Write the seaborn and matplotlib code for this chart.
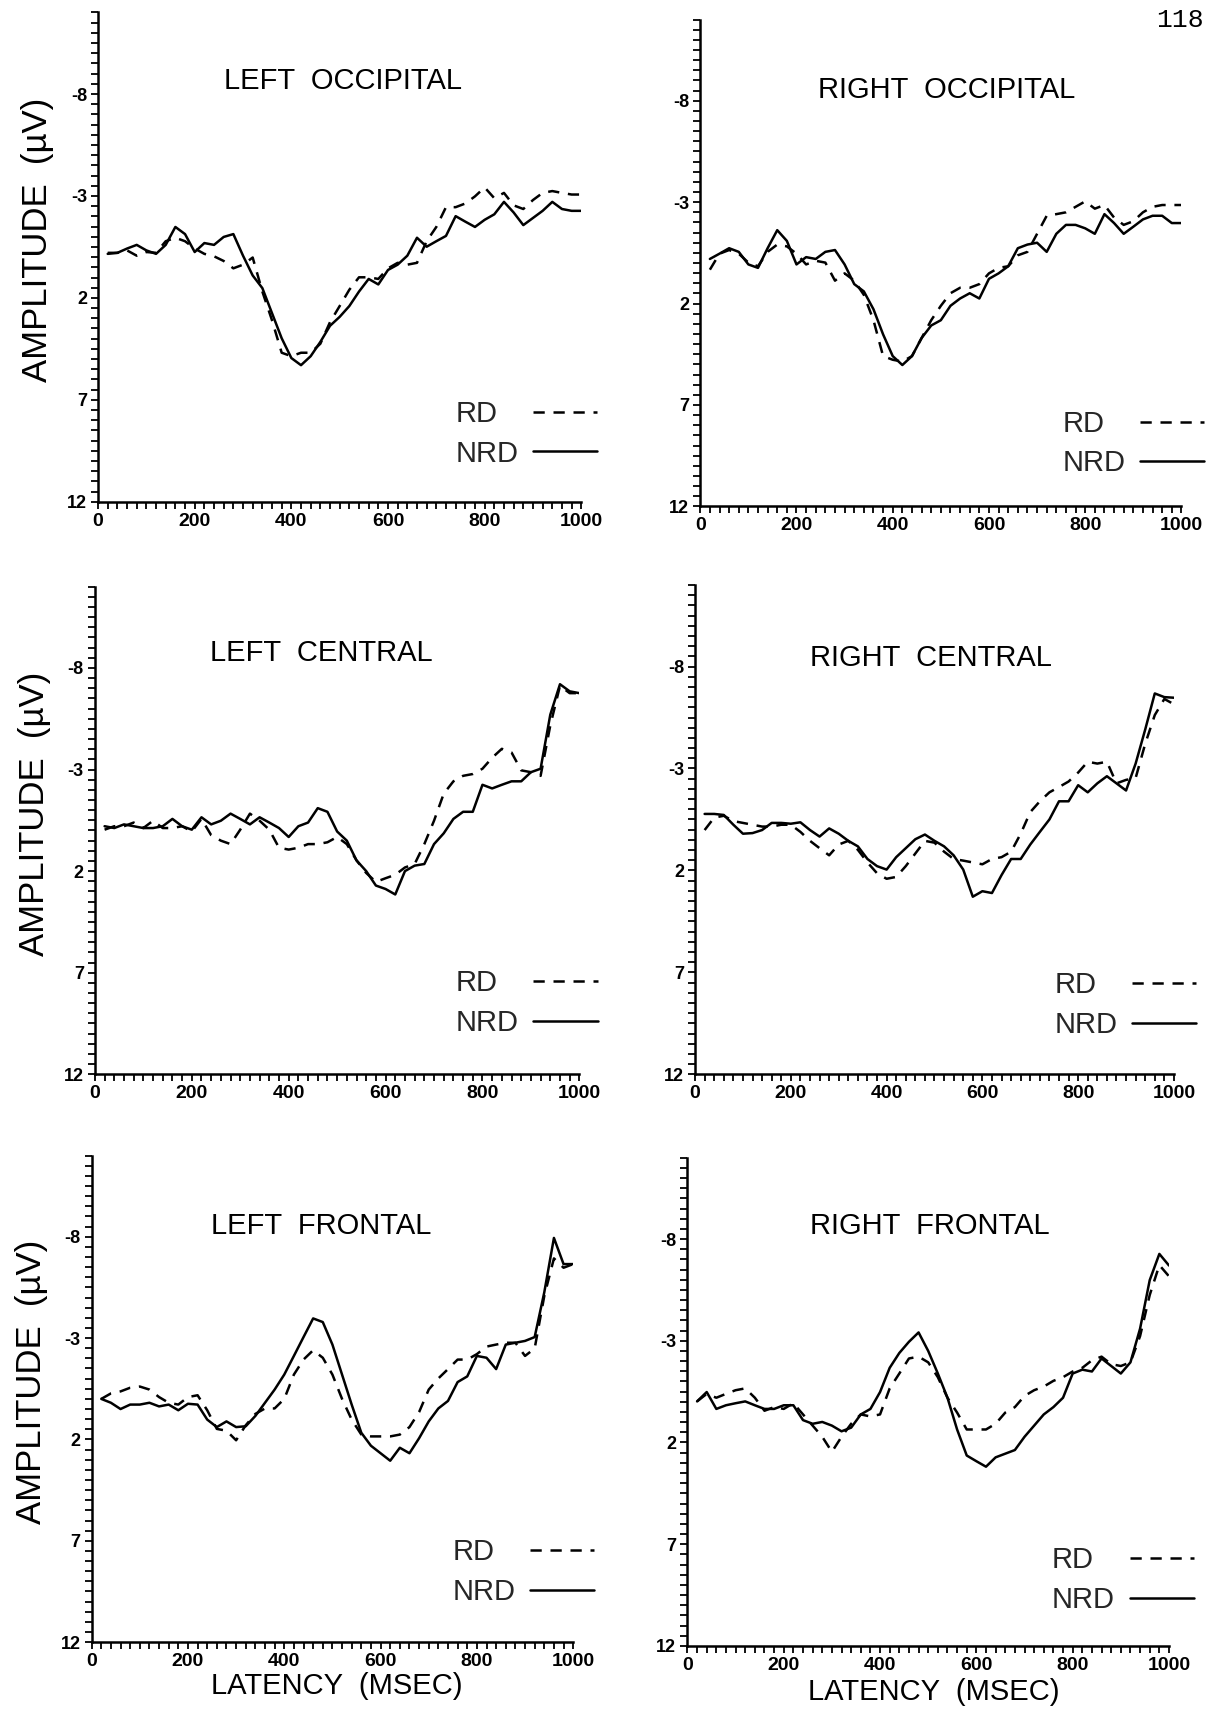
import numpy as np
import pandas as pd
import matplotlib
matplotlib.use("Agg")
import matplotlib.pyplot as plt
from matplotlib.lines import Line2D
from matplotlib.ticker import MultipleLocator
import seaborn as sns

# latency grid (ms), shared by every trace
latency = list(range(20, 1001, 20))

lo_rd = [-0.21, -0.21, -0.33, -0.07, -0.25, -0.21, -0.78, -0.95, -0.78, -0.42,
         -0.16, -0.04, 0.19, 0.55, 0.37, 0.02, 1.69, 3.10, 4.69, 4.86,
         4.69, 4.69, 4.25, 3.19, 2.40, 1.60, 0.99, 0.99, 1.07, 0.55,
         0.28, 0.37, 0.28, -0.78, -1.48, -2.45, -2.45, -2.63, -2.98, -3.42,
         -2.89, -3.15, -2.54, -2.36, -2.80, -3.15, -3.24, -3.15, -3.07, -3.07]
lo_nrd = [-0.16, -0.21, -0.42, -0.60, -0.33, -0.16, -0.60, -1.48, -1.13, -0.25,
          -0.69, -0.60, -0.99, -1.13, -0.07, 0.90, 1.52, 2.75, 3.98, 4.95,
          5.30, 4.86, 4.16, 3.37, 2.93, 2.40, 1.69, 1.07, 1.34, 0.63,
          0.37, -0.07, -0.95, -0.51, -0.78, -1.04, -2.01, -1.74, -1.48, -1.83,
          -2.10, -2.71, -2.19, -1.57, -1.92, -2.27, -2.71, -2.36, -2.27, -2.27]

ro_rd = [0.33, -0.46, -0.64, -0.46, -0.02, 0.16, -0.55, -0.91, -0.82, -0.46,
         0.07, -0.11, -0.02, 0.87, 0.51, 0.87, 1.57, 2.82, 4.59, 4.77,
         4.86, 4.59, 3.70, 2.82, 2.11, 1.49, 1.22, 1.22, 1.04, 0.51,
         0.24, 0.16, -0.38, -0.55, -1.44, -2.33, -2.41, -2.50, -2.77, -3.04,
         -2.68, -2.86, -2.24, -1.88, -2.06, -2.50, -2.77, -2.86, -2.86, -2.86]
ro_nrd = [-0.20, -0.46, -0.73, -0.55, 0.07, 0.24, -0.73, -1.62, -1.09, 0.07,
          -0.29, -0.20, -0.55, -0.64, 0.07, 1.04, 1.40, 2.28, 3.52, 4.59,
          5.03, 4.59, 3.70, 3.08, 2.82, 2.11, 1.75, 1.49, 1.75, 0.78,
          0.51, 0.16, -0.73, -0.91, -1.00, -0.55, -1.44, -1.88, -1.88, -1.71,
          -1.44, -2.41, -1.97, -1.44, -1.79, -2.15, -2.33, -2.33, -1.97, -1.97]

lc_rd = [-0.04, -0.21, -0.21, -0.39, -0.12, -0.48, -0.12, -0.12, -0.21, 0.05,
         -0.57, 0.23, 0.50, 0.67, -0.04, -0.83, -0.48, -0.04, 0.85, 0.94,
         0.85, 0.67, 0.67, 0.58, 0.32, 0.67, 1.47, 2.09, 2.53, 2.35,
         2.18, 1.82, 1.65, 0.67, -0.48, -1.81, -2.42, -2.69, -2.78, -3.04,
         -3.58, -4.02, -3.84, -2.96, -2.87, -2.69, -5.17, -7.12, -6.76, -6.76]
lc_nrd = [-0.21, -0.12, -0.30, -0.21, -0.12, -0.12, -0.21, -0.57, -0.21, -0.04,
          -0.65, -0.30, -0.48, -0.83, -0.57, -0.30, -0.65, -0.39, -0.12, 0.32,
          -0.21, -0.39, -1.10, -0.92, 0.05, 0.50, 1.47, 2.00, 2.71, 2.88,
          3.15, 2.00, 1.73, 1.65, 0.67, 0.14, -0.57, -0.92, -0.92, -2.25,
          -2.07, -2.25, -2.42, -2.42, -2.87, -3.04, -5.70, -7.20, -6.85, -6.76]

rc_rd = [0.02, -0.59, -0.68, -0.42, -0.33, -0.24, -0.15, -0.15, -0.24, -0.24,
         0.11, 0.55, 0.91, 1.26, 0.73, 0.55, 0.99, 1.61, 2.14, 2.41,
         2.32, 1.79, 1.17, 0.55, 0.64, 1.08, 1.44, 1.52, 1.61, 1.70,
         1.44, 1.35, 1.08, 0.20, -0.86, -1.39, -1.83, -2.09, -2.36, -2.80,
         -3.33, -3.24, -3.33, -2.27, -2.44, -2.53, -4.21, -5.62, -6.41, -6.15]
rc_nrd = [-0.77, -0.77, -0.72, -0.24, 0.20, 0.17, 0.02, -0.33, -0.33, -0.29,
          -0.36, 0.02, 0.34, -0.06, 0.20, 0.55, 0.82, 1.44, 1.79, 1.96,
          1.35, 0.91, 0.47, 0.24, 0.55, 0.82, 1.26, 1.96, 3.29, 3.02,
          3.11, 2.23, 1.44, 1.44, 0.73, 0.11, -0.50, -1.39, -1.39, -2.18,
          -1.83, -2.27, -2.62, -2.27, -1.92, -3.24, -4.91, -6.68, -6.50, -6.47]

lf_rd = [0.00, -0.27, -0.37, -0.55, -0.61, -0.46, -0.09, 0.19, 0.28, -0.09,
         -0.18, 0.56, 1.48, 1.57, 2.04, 1.30, 0.74, 0.47, 0.47, 0.00,
         -1.20, -1.94, -2.40, -2.03, -1.20, 0.00, 1.02, 1.76, 1.85, 1.85,
         1.85, 1.76, 1.39, 0.65, -0.46, -1.01, -1.47, -1.94, -1.94, -2.21,
         -2.58, -2.68, -2.77, -2.77, -2.12, -2.49, -5.08, -6.93, -6.47, -6.65]
lf_nrd = [0.00, 0.19, 0.50, 0.28, 0.28, 0.19, 0.37, 0.28, 0.56, 0.24,
          0.28, 1.02, 1.39, 1.11, 1.39, 1.35, 0.84, 0.19, -0.46, -1.20,
          -2.12, -3.05, -3.97, -3.79, -2.68, -1.20, 0.28, 1.67, 2.31, 2.68,
          3.05, 2.41, 2.68, 1.94, 1.11, 0.47, 0.10, -0.83, -1.11, -2.12,
          -2.03, -1.47, -2.68, -2.77, -2.86, -3.05, -5.26, -7.94, -6.65, -6.65]

rf_rd = [-0.02, -0.39, -0.20, -0.39, -0.57, -0.66, -0.20, 0.44, 0.26, 0.35,
         0.07, 0.62, 1.17, 1.72, 2.46, 1.72, 1.08, 0.62, 0.72, 0.62,
         -0.66, -1.39, -2.13, -2.22, -1.94, -1.21, -0.20, 0.53, 1.36, 1.36,
         1.36, 1.08, 0.53, 0.26, -0.29, -0.57, -0.75, -1.03, -1.21, -1.49,
         -1.67, -2.04, -2.22, -1.85, -1.76, -1.94, -3.23, -5.25, -6.72, -6.17]
rf_nrd = [-0.02, -0.48, 0.35, 0.17, 0.07, -0.02, 0.17, 0.35, 0.35, 0.17,
          0.17, 0.90, 1.08, 0.99, 1.17, 1.45, 1.27, 0.62, 0.35, -0.48,
          -1.67, -2.40, -2.95, -3.41, -2.50, -1.39, -0.20, 1.36, 2.64, 2.92,
          3.19, 2.73, 2.55, 2.37, 1.72, 1.17, 0.62, 0.26, -0.20, -1.39,
          -1.58, -1.49, -2.13, -1.76, -1.39, -1.94, -3.60, -5.98, -7.27, -6.70]

titles = ["LEFT  OCCIPITAL", "RIGHT  OCCIPITAL", "LEFT  CENTRAL",
          "RIGHT  CENTRAL", "LEFT  FRONTAL", "RIGHT  FRONTAL"]
rd_series = [lo_rd, ro_rd, lc_rd, rc_rd, lf_rd, rf_rd]
nrd_series = [lo_nrd, ro_nrd, lc_nrd, rc_nrd, lf_nrd, rf_nrd]
groups = ["RD", "NRD"]
x_ticks = [0, 200, 400, 600, 800, 1000]
x_ticklabels = ["0", "200", "400", "600", "800", "1000"]
y_ticks = [-8, -3, 2, 7, 12]
y_ticklabels = ["-8", "-3", "2", "7", "12"]

sns.set_theme(style="ticks")
plt.rcParams["font.family"] = ["Liberation Sans Narrow", "Liberation Sans", "DejaVu Sans"]
plt.rcParams["axes.unicode_minus"] = False

# axes boxes in figure fraction [left, bottom, width, height]
boxes = [
    [0.0811, 0.7064, 0.3997, 0.2863],
    [0.5792, 0.7037, 0.3980, 0.2848],
    [0.0785, 0.3714, 0.4007, 0.2853],
    [0.5749, 0.3714, 0.3961, 0.2863],
    [0.0758, 0.0391, 0.3983, 0.2847],
    [0.5686, 0.0369, 0.3983, 0.2857],
]
title_xy = [(0.507, 0.859), (0.511, 0.856), (0.467, 0.864),
            (0.493, 0.851), (0.477, 0.855), (0.504, 0.861)]
legend_xy = [(0.740, 0.139), (0.753, 0.129), (0.745, 0.146),
             (0.750, 0.141), (0.749, 0.144), (0.757, 0.135)]
xlabel_xy = [None, None, None, None, (0.51, -0.090), (0.512, -0.094)]

DASH = (4.5, 3.5)
LW = 1.8

fig = plt.figure(figsize=(12.09, 17.09), dpi=100)
fig.patch.set_facecolor("white")
legends = []

for i in range(6):
    ax = fig.add_axes(boxes[i])
    df = pd.DataFrame({
        "latency": latency * 2,
        "amp": rd_series[i] + nrd_series[i],
        "group": ["RD"] * len(latency) + ["NRD"] * len(latency),
    })
    sns.lineplot(data=df, x="latency", y="amp", style="group", style_order=groups,
                 dashes={"RD": DASH, "NRD": ""}, color="black", linewidth=LW,
                 errorbar=None, legend=False, ax=ax)

    ax.set_xlim(0, 1000)
    ax.set_ylim(12, -12)
    ax.set_xticks(x_ticks)
    ax.set_xticklabels(x_ticklabels, fontweight="bold", fontsize=14)
    ax.set_yticks(y_ticks)
    ax.set_yticklabels(y_ticklabels, fontweight="bold", fontsize=13)
    ax.xaxis.set_minor_locator(MultipleLocator(20))
    ax.yaxis.set_minor_locator(MultipleLocator(0.5))
    ax.tick_params(which="both", direction="out", length=5, width=1.3,
                   color="black", labelcolor="black")
    ax.tick_params(axis="x", pad=3)
    ax.tick_params(axis="y", pad=3)
    sns.despine(ax=ax)
    for s in ["left", "bottom"]:
        ax.spines[s].set_linewidth(1.8)
        ax.spines[s].set_color("black")
    ax.set_facecolor("white")

    if i % 2 == 0:
        ax.set_ylabel("AMPLITUDE  (\u00b5V)", fontsize=25, color="black", va="center")
        ax.yaxis.set_label_coords(-0.125, 0.535)
    else:
        ax.set_ylabel("")
    if xlabel_xy[i] is not None:
        ax.set_xlabel("LATENCY  (MSEC)", fontsize=21, color="black", va="center")
        ax.xaxis.set_label_coords(*xlabel_xy[i])
    else:
        ax.set_xlabel("")

    ax.text(title_xy[i][0], title_xy[i][1], titles[i], transform=ax.transAxes,
            ha="center", va="center", fontsize=21, color="black")

    handles = [Line2D([], [], color="black", lw=LW, dashes=DASH),
               Line2D([], [], color="black", lw=LW)]
    leg = ax.legend(handles, groups, loc="center left", bbox_to_anchor=legend_xy[i],
                    frameon=False, markerfirst=False, handlelength=2.2,
                    handletextpad=0.5, labelspacing=0.4, borderpad=0,
                    borderaxespad=0, fontsize=21)
    legends.append(leg)

fig.text(1180 / 1209, 1 - 20 / 1709, "118", family="Liberation Mono",
         fontsize=19, ha="center", va="center", color="black")

# left-align the legend labels (RD under NRD) while keeping the line samples aligned
fig.canvas.draw()
for leg in legends:
    t = leg.get_texts()
    diff = (t[1].get_window_extent().width - t[0].get_window_extent().width) * 72 / fig.dpi
    rows = leg._legend_handle_box.get_children()[0].get_children()
    rows[0].sep += diff

fig.savefig("out.png", dpi=100, facecolor="white")
